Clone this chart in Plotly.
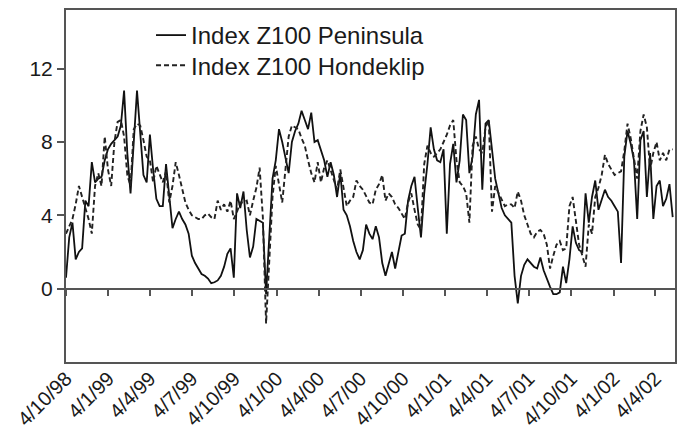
import pandas as pd
import plotly.graph_objects as go

start_date = "1998-10-04"

peninsula = [
    0.6, 2.8, 3.6, 1.6, 2.0, 2.2, 4.8, 4.5, 6.9, 5.8,
    6.0, 6.1, 7.0, 7.6, 7.9, 8.1, 8.3, 8.9, 10.8, 7.4,
    5.2, 8.0, 10.8, 8.5, 6.2, 5.8, 8.4, 6.5, 4.9, 4.5,
    4.5, 6.8, 5.2, 3.3, 3.8, 4.2, 3.8, 3.5, 3.0, 1.8,
    1.4, 1.1, 0.8, 0.7, 0.55, 0.3, 0.35, 0.45, 0.7, 1.2,
    1.9, 2.2, 0.6, 5.2, 4.4, 5.3, 3.2, 1.7, 2.3, 3.8,
    3.7, 3.6, -0.3, 3.0, 6.0, 7.0, 8.7, 8.0, 7.2, 6.3,
    8.0, 8.6, 9.0, 9.7, 9.2, 8.7, 9.6, 8.0, 8.1, 7.5,
    7.0, 6.1, 6.9, 6.2, 5.0, 6.3, 4.3, 4.0, 3.4, 2.6,
    2.0, 1.6, 2.1, 3.5, 3.0, 2.7, 3.4, 2.8, 1.4, 0.7,
    1.3, 2.0, 1.1, 2.0, 2.9, 3.0, 4.8, 5.6, 6.1, 4.4,
    2.8, 5.2, 6.8, 8.8, 7.6, 7.0, 6.9, 7.6, 3.0, 6.8,
    7.9, 5.8, 7.0, 9.5, 9.2, 6.3, 7.2, 9.5, 10.3, 5.4,
    9.0, 9.2, 7.4, 6.0, 5.2, 4.4, 4.0, 3.8, 3.6, 0.7,
    -0.8, 0.7, 1.3, 1.6, 1.4, 1.2, 1.1, 1.7, 1.0, 0.5,
    0.1, -0.3, -0.3, -0.2, 1.2, 0.3, 1.6, 3.4, 2.5, 2.1,
    2.0, 5.2, 3.6, 5.0, 5.9, 4.3, 4.9, 5.4, 5.0, 4.8,
    4.5, 4.2, 1.4, 7.2, 8.6, 7.9, 7.0, 3.8, 8.1, 8.6,
    5.0, 7.4, 3.8, 5.6, 5.9, 4.5, 4.9, 5.7, 3.9,
]

hondeklip = [
    3.0, 3.4, 3.8, 4.6, 5.6, 5.0, 4.4, 3.8, 3.0, 5.6,
    6.3, 5.6, 8.3, 6.5, 5.6, 8.0, 9.1, 9.2, 8.3, 6.2,
    5.6, 8.7, 9.0, 8.9, 8.1, 7.2, 7.0, 5.8, 6.7, 6.2,
    5.8, 6.4, 4.7, 5.6, 6.9, 6.2, 5.4, 4.7, 4.3, 4.0,
    3.9, 3.8, 3.8, 4.0, 4.1, 3.9, 3.8, 4.8, 4.3, 4.6,
    4.2, 4.8, 3.8, 4.2, 4.7, 4.7, 4.8, 4.0, 4.8, 5.5,
    6.6, 3.9, -1.9, 1.5, 5.0, 6.7, 5.8, 4.7, 6.5, 8.3,
    8.9, 8.8, 8.7, 8.2, 7.8, 7.0, 6.3, 5.8, 6.9, 5.8,
    6.6, 7.0, 6.5, 5.9, 5.4, 6.5, 5.5, 4.5, 4.8, 5.0,
    5.9, 5.6, 5.4, 5.0, 4.7, 4.6, 5.4, 5.7, 6.2, 4.8,
    5.2, 5.0, 4.6, 4.4, 4.1, 3.8, 4.7, 5.2, 4.3, 3.5,
    3.2, 6.8, 7.8, 7.4, 7.2, 7.4, 7.6, 8.0, 8.4, 8.9,
    9.2, 7.0, 5.8, 5.6, 5.2, 3.6, 7.8, 8.3, 7.6, 7.4,
    8.8, 9.2, 4.2, 5.6, 5.2, 4.8, 4.5, 4.6, 4.6, 4.4,
    5.3, 4.8, 4.0, 3.5, 3.0, 2.8, 3.1, 3.2, 3.0, 2.4,
    1.1, 1.8, 2.4, 2.6, 2.1, 2.2, 4.5, 5.0, 3.8, 2.4,
    1.8, 1.2, 3.5, 3.0, 5.0, 5.5, 6.2, 7.3, 6.8, 6.5,
    6.2, 6.3, 6.4, 7.5, 9.0, 8.2, 7.0, 6.0, 8.6, 9.5,
    8.8, 6.5, 7.4, 8.0, 7.0, 7.4, 7.0, 7.6, 7.6,
]

tick_dates = ["1998-10-04", "1999-01-04", "1999-04-04", "1999-07-04",
              "1999-10-04", "2000-01-04", "2000-04-04", "2000-07-04",
              "2000-10-04", "2001-01-04", "2001-04-04", "2001-07-04",
              "2001-10-04", "2002-01-04", "2002-04-04"]
tick_labels = ["4/10/98", "4/1/99", "4/4/99", "4/7/99", "4/10/99", "4/1/00",
               "4/4/00", "4/7/00", "4/10/00", "4/1/01", "4/4/01", "4/7/01",
               "4/10/01", "4/1/02", "4/4/02"]
y_ticks = [0, 4, 8, 12]

x_range = ["1998-10-04", "2002-05-17"]
y_range = [-4, 15.2]

dates_p = pd.date_range(start_date, periods=len(peninsula), freq="7D")
dates_h = pd.date_range(start_date, periods=len(hondeklip), freq="7D")

FONT = "Liberation Sans, Arial, sans-serif"
AXC = "#555555"
TXT = "#1a1a1a"

fig = go.Figure()
fig.add_trace(go.Scatter(x=dates_p, y=peninsula, mode="lines",
                         name="Index Z100 Peninsula", legend="legend",
                         line=dict(color="#111111", width=1.8)))
fig.add_trace(go.Scatter(x=dates_h, y=hondeklip, mode="lines",
                         name="Index Z100 Hondeklip", legend="legend2",
                         line=dict(color="#222222", width=1.9, dash="5px,3px")))
# invisible helper so the zero-line tick axis is rendered
fig.add_trace(go.Scatter(x=[tick_dates[0]], y=[None], xaxis="x2", mode="lines",
                         showlegend=False, hoverinfo="skip"))

zero_pos = (0 - y_range[0]) / (y_range[1] - y_range[0])

# the page body adds an 8px offset, so the figure is 8px smaller than the window
legend_common = dict(xanchor="left", yanchor="top", bgcolor="rgba(0,0,0,0)",
                     font=dict(size=24, family=FONT, color=TXT))

fig.update_layout(
    width=677, height=424,
    margin=dict(l=58, r=10, t=2, b=70, autoexpand=False),
    paper_bgcolor="white", plot_bgcolor="white",
    font=dict(family=FONT, size=21, color=TXT),
    showlegend=True,
    legend=dict(x=0.1396, y=0.9915, **legend_common),
    legend2=dict(x=0.1396, y=0.906, **legend_common),
    xaxis=dict(type="date", range=x_range, tickvals=tick_dates, ticktext=tick_labels,
               tickangle=-45, ticks="", showgrid=False, zeroline=False, automargin=False,
               ticklabelstandoff=-5,
               showline=True, linecolor=AXC, linewidth=2, mirror=True,
               tickfont=dict(size=20, family=FONT, color=TXT)),
    xaxis2=dict(type="date", range=x_range, overlaying="x", anchor="free",
                position=zero_pos, tickvals=tick_dates, showticklabels=False,
                ticks="outside", ticklen=6, tickwidth=1.5, tickcolor=AXC, automargin=False,
                showline=True, linecolor=AXC, linewidth=2, showgrid=False,
                zeroline=False),
    yaxis=dict(range=y_range, tickvals=y_ticks, ticks="outside", ticklen=7,
               tickwidth=1.5, tickcolor=AXC, showgrid=False, zeroline=False,
               showline=True, linecolor=AXC, linewidth=2, mirror=True, automargin=False,
               tickfont=dict(size=21, family=FONT, color=TXT)),
)

fig.write_html("out.html")
